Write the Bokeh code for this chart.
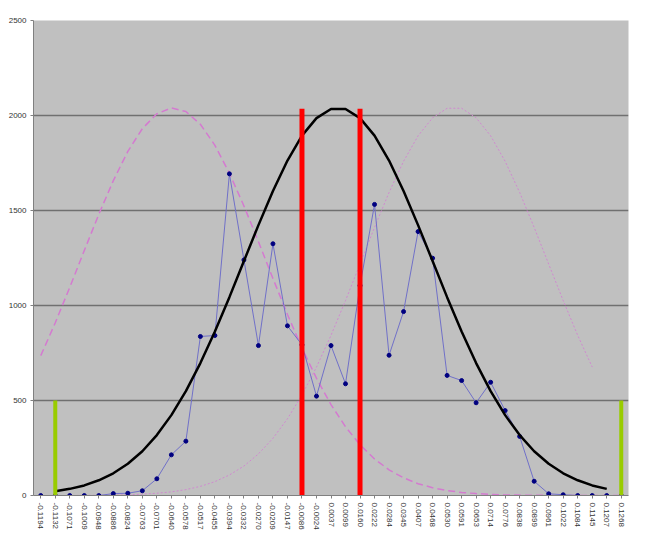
from bokeh.plotting import figure
from bokeh.models import FactorRange, Range1d, SingleIntervalTicker
from bokeh.embed import file_html
from bokeh.resources import INLINE

categories = ["-0.1194", "-0.1132", "-0.1071", "-0.1009", "-0.0948", "-0.0886", "-0.0824",
              "-0.0763", "-0.0701", "-0.0640", "-0.0578", "-0.0517", "-0.0455", "-0.0394",
              "-0.0332", "-0.0270", "-0.0209", "-0.0147", "-0.0086", "-0.0024", "0.0037",
              "0.0099", "0.0160", "0.0222", "0.0284", "0.0345", "0.0407", "0.0468", "0.0530",
              "0.0591", "0.0653", "0.0714", "0.0776", "0.0838", "0.0899", "0.0961", "0.1022",
              "0.1084", "0.1145", "0.1207", "0.1268"]

observed = [0, 0, 0, 0, 0, 10, 12, 25, 88, 214, 286, 837, 842, 1693, 1240, 789, 1325, 893,
            793, 523, 789, 588, 1105, 1532, 738, 968, 1389, 1249, 632, 605, 488, 596, 447,
            311, 75, 9, 4, 0, 0, 0, 0]

# black fitted curve, categories 1..39
normal_fit = [22, 35, 53, 80, 117, 167, 233, 318, 423, 549, 697, 863, 1044, 1234, 1423,
              1603, 1763, 1894, 1986, 2034, 2034, 1986, 1894, 1763, 1603, 1423, 1234, 1044,
              863, 697, 549, 423, 318, 233, 167, 117, 80, 53, 35]

# pink dashed curve, categories 0..40
left_curve = [736, 909, 1096, 1289, 1480, 1657, 1811, 1931, 2009, 2040, 2021, 1954, 1843,
              1696, 1524, 1336, 1142, 953, 776, 617, 478, 362, 267, 192, 135, 93, 62, 41,
              26, 16, 10, 6, 3, 2, 1, 1, 0, 0, 0, 0, 0]

# pink dotted curve, categories 0..38
right_curve = [0, 0, 0, 1, 1, 2, 4, 7, 12, 19, 31, 48, 73, 108, 155, 219, 301, 404, 529,
               676, 843, 1026, 1218, 1411, 1595, 1759, 1893, 1988, 2038, 2038, 1988, 1893,
               1759, 1595, 1411, 1218, 1026, 843, 676]

red_marks = ["-0.0086", "0.0160"]
red_heights = [2035, 2035]
green_marks = ["-0.1132", "0.1268"]
green_heights = [500, 500]

y_max = 2500
y_step = 500

p = figure(width=645, height=548, output_backend="svg", toolbar_location=None,
           x_range=FactorRange(factors=categories, range_padding=0),
           y_range=Range1d(0, y_max),
           min_border_left=33, min_border_right=17, min_border_top=20, min_border_bottom=53)

p.background_fill_color = "#C0C0C0"
p.border_fill_color = "white"
p.outline_line_color = None

p.xgrid.grid_line_color = None
p.ygrid.grid_line_color = "#707070"
p.ygrid.grid_line_width = 1.5
p.yaxis.ticker = SingleIntervalTicker(interval=y_step)

for ax in (p.xaxis, p.yaxis):
    ax.axis_line_color = "#808080"
    ax.major_tick_line_color = "#808080"
    ax.major_tick_out = 3
    ax.major_tick_in = 0
    ax.minor_tick_line_color = None
    ax.major_label_text_font = "Liberation Sans"
    ax.major_label_text_color = "#333333"
p.yaxis.major_label_text_font_size = "8px"
p.yaxis.major_label_standoff = 3
p.xaxis.major_label_text_font_size = "8px"
p.xaxis.major_label_orientation = "vertical"
p.xaxis.major_label_standoff = 4

# pink curves
p.line(categories, left_curve, line_color="#D47AD0", line_width=1.5, line_dash="7 4")
p.line(categories[:len(right_curve)], right_curve, line_color="#D088D0", line_width=1,
       line_dash="2 2")

# observed series
p.line(categories, observed, line_color="#7070C8", line_width=1)
p.scatter(categories, observed, size=4, fill_color="#000080", line_color="#000080")

# fitted normal
p.line(categories[1:1 + len(normal_fit)], normal_fit, line_color="black", line_width=2.5)

# markers
p.segment(x0=red_marks, y0=[0] * len(red_marks), x1=red_marks, y1=red_heights,
          line_color="#FF0000", line_width=5)
p.segment(x0=green_marks, y0=[0] * len(green_marks), x1=green_marks, y1=green_heights,
          line_color="#99CC00", line_width=4)

open("out.html", "w").write(file_html(p, INLINE))
